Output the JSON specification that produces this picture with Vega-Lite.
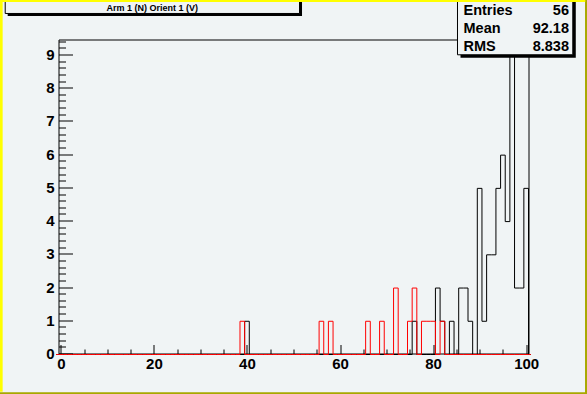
{
  "$schema": "https://vega.github.io/schema/vega-lite/v6.json",
  "width": 470,
  "height": 314,
  "autosize": {"type": "none"},
  "padding": {"left": 58.5, "top": 39.5, "right": 58.5, "bottom": 40.5},
  "background": "#f0f4f5",
  "config": {"view": {"stroke": "#000000", "strokeWidth": 1}, "font": "Liberation Sans"},
  "datasets": {
    "hist": [
      {"bin": -1, "black": 0, "red": 0}, {"bin": 0, "black": 0, "red": 0}, {"bin": 1, "black": 0, "red": 0}, {"bin": 2, "black": 0, "red": 0},
      {"bin": 3, "black": 0, "red": 0}, {"bin": 4, "black": 0, "red": 0}, {"bin": 5, "black": 0, "red": 0}, {"bin": 6, "black": 0, "red": 0},
      {"bin": 7, "black": 0, "red": 0}, {"bin": 8, "black": 0, "red": 0}, {"bin": 9, "black": 0, "red": 0}, {"bin": 10, "black": 0, "red": 0},
      {"bin": 11, "black": 0, "red": 0}, {"bin": 12, "black": 0, "red": 0}, {"bin": 13, "black": 0, "red": 0}, {"bin": 14, "black": 0, "red": 0},
      {"bin": 15, "black": 0, "red": 0}, {"bin": 16, "black": 0, "red": 0}, {"bin": 17, "black": 0, "red": 0}, {"bin": 18, "black": 0, "red": 0},
      {"bin": 19, "black": 0, "red": 0}, {"bin": 20, "black": 0, "red": 0}, {"bin": 21, "black": 0, "red": 0}, {"bin": 22, "black": 0, "red": 0},
      {"bin": 23, "black": 0, "red": 0}, {"bin": 24, "black": 0, "red": 0}, {"bin": 25, "black": 0, "red": 0}, {"bin": 26, "black": 0, "red": 0},
      {"bin": 27, "black": 0, "red": 0}, {"bin": 28, "black": 0, "red": 0}, {"bin": 29, "black": 0, "red": 0}, {"bin": 30, "black": 0, "red": 0},
      {"bin": 31, "black": 0, "red": 0}, {"bin": 32, "black": 0, "red": 0}, {"bin": 33, "black": 0, "red": 0}, {"bin": 34, "black": 0, "red": 0},
      {"bin": 35, "black": 0, "red": 0}, {"bin": 36, "black": 0, "red": 0}, {"bin": 37, "black": 0, "red": 0}, {"bin": 38, "black": 0, "red": 0},
      {"bin": 39, "black": 0, "red": 1}, {"bin": 40, "black": 1, "red": 0}, {"bin": 41, "black": 0, "red": 0}, {"bin": 42, "black": 0, "red": 0},
      {"bin": 43, "black": 0, "red": 0}, {"bin": 44, "black": 0, "red": 0}, {"bin": 45, "black": 0, "red": 0}, {"bin": 46, "black": 0, "red": 0},
      {"bin": 47, "black": 0, "red": 0}, {"bin": 48, "black": 0, "red": 0}, {"bin": 49, "black": 0, "red": 0}, {"bin": 50, "black": 0, "red": 0},
      {"bin": 51, "black": 0, "red": 0}, {"bin": 52, "black": 0, "red": 0}, {"bin": 53, "black": 0, "red": 0}, {"bin": 54, "black": 0, "red": 0},
      {"bin": 55, "black": 0, "red": 0}, {"bin": 56, "black": 0, "red": 1}, {"bin": 57, "black": 0, "red": 0}, {"bin": 58, "black": 0, "red": 1},
      {"bin": 59, "black": 0, "red": 0}, {"bin": 60, "black": 0, "red": 0}, {"bin": 61, "black": 0, "red": 0}, {"bin": 62, "black": 0, "red": 0},
      {"bin": 63, "black": 0, "red": 0}, {"bin": 64, "black": 0, "red": 0}, {"bin": 65, "black": 0, "red": 0}, {"bin": 66, "black": 0, "red": 1},
      {"bin": 67, "black": 0, "red": 0}, {"bin": 68, "black": 0, "red": 0}, {"bin": 69, "black": 0, "red": 1}, {"bin": 70, "black": 0, "red": 0},
      {"bin": 71, "black": 0, "red": 0}, {"bin": 72, "black": 0, "red": 2}, {"bin": 73, "black": 0, "red": 0}, {"bin": 74, "black": 0, "red": 0},
      {"bin": 75, "black": 0, "red": 1}, {"bin": 76, "black": 1, "red": 2}, {"bin": 77, "black": 0, "red": 0}, {"bin": 78, "black": 0, "red": 1},
      {"bin": 79, "black": 0, "red": 1}, {"bin": 80, "black": 0, "red": 1}, {"bin": 81, "black": 2, "red": 0}, {"bin": 82, "black": 1, "red": 1},
      {"bin": 83, "black": 0, "red": 0}, {"bin": 84, "black": 1, "red": 0}, {"bin": 85, "black": 0, "red": 0}, {"bin": 86, "black": 2, "red": 0},
      {"bin": 87, "black": 2, "red": 0}, {"bin": 88, "black": 1, "red": 0}, {"bin": 89, "black": 0, "red": 0}, {"bin": 90, "black": 5, "red": 0},
      {"bin": 91, "black": 1, "red": 0}, {"bin": 92, "black": 3, "red": 0}, {"bin": 93, "black": 3, "red": 0}, {"bin": 94, "black": 5, "red": 0},
      {"bin": 95, "black": 6, "red": 0}, {"bin": 96, "black": 4, "red": 0}, {"bin": 97, "black": 9, "red": 0}, {"bin": 98, "black": 2, "red": 0},
      {"bin": 99, "black": 2, "red": 0}, {"bin": 100, "black": 5, "red": 0}, {"bin": 101, "black": 0, "red": 0}
    ]
  },
  "layer": [
    {
      "data": {"name": "hist"},
      "mark": {"type": "line", "interpolate": "step", "color": "#000000", "strokeWidth": 1, "yOffset": 1},
      "encoding": {
        "x": {"field": "bin", "type": "quantitative", "scale": {"domain": [-0.5, 100.5], "nice": false, "zero": false},
          "axis": {"orient": "bottom", "values": [0, 20, 40, 60, 80, 100], "tickSize": -9, "labelPadding": 12, "domain": false, "grid": false, "title": null,
            "labelFont": "Liberation Sans", "labelFontWeight": "bold", "labelFontSize": 15, "labelColor": "#000000", "tickColor": "#000000", "labelFlush": false, "labelOverlap": false}},
        "y": {"field": "black", "type": "quantitative", "scale": {"domain": [0, 9.45], "nice": false, "zero": false},
          "axis": {"orient": "left", "values": [0, 1, 2, 3, 4, 5, 6, 7, 8, 9], "tickSize": -14, "labelPadding": 18.5, "domain": false, "grid": false, "title": null,
            "labelFont": "Liberation Sans", "labelFontWeight": "bold", "labelFontSize": 15, "labelColor": "#000000", "tickColor": "#000000", "labelFlush": false, "labelOverlap": false}}
      }
    },
    {
      "data": {"name": "hist"},
      "mark": {"type": "line", "interpolate": "step", "color": "#ff0000", "strokeWidth": 1, "yOffset": 1},
      "encoding": {
        "x": {"field": "bin", "type": "quantitative",
          "axis": {"orient": "bottom", "values": [5, 10, 15, 25, 30, 35, 45, 50, 55, 65, 70, 75, 85, 90, 95], "tickSize": -4.5, "labels": false, "domain": false, "grid": false, "title": null, "tickColor": "#000000"}},
        "y": {"field": "red", "type": "quantitative",
          "axis": {"orient": "left", "values": [0.2, 0.4, 0.6, 0.8, 1.2, 1.4, 1.6, 1.8, 2.2, 2.4, 2.6, 2.8, 3.2, 3.4, 3.6, 3.8, 4.2, 4.4, 4.6, 4.8, 5.2, 5.4, 5.6, 5.8, 6.2, 6.4, 6.6, 6.8, 7.2, 7.4, 7.6, 7.8, 8.2, 8.4, 8.6, 8.8, 9.2, 9.4], "tickSize": -7, "labels": false, "domain": false, "grid": false, "title": null, "tickColor": "#000000"}}
      }
    },
    {
      "data": {"values": [{}]},
      "mark": {"type": "rect", "fill": "#000000"},
      "encoding": {
        "x": {"datum": -11.42, "type": "quantitative", "axis": null}, "x2": {"datum": 51.83},
        "y": {"datum": 10.9, "type": "quantitative", "axis": null}, "y2": {"datum": 10.157}
      }
    },
    {
      "data": {"values": [{}]},
      "mark": {"type": "rect", "fill": "#f0f4f5", "stroke": "#000000", "strokeWidth": 1},
      "encoding": {
        "x": {"datum": -11.95, "type": "quantitative", "axis": null}, "x2": {"datum": 51.29},
        "y": {"datum": 10.9, "type": "quantitative", "axis": null}, "y2": {"datum": 10.233}
      }
    },
    {
      "data": {"values": [{"title": "Arm 1 (N) Orient 1 (V)"}]},
      "mark": {"type": "text", "font": "Liberation Sans", "fontWeight": "bold", "fontSize": 9, "align": "center", "baseline": "alphabetic", "color": "#000000"},
      "encoding": {
        "x": {"datum": 19.66, "type": "quantitative", "axis": null},
        "y": {"datum": 10.308, "type": "quantitative", "axis": null},
        "text": {"field": "title"}
      }
    },
    {
      "data": {"values": [{}]},
      "mark": {"type": "rect", "fill": "#000000"},
      "encoding": {
        "x": {"datum": 85.89, "type": "quantitative", "axis": null}, "x2": {"datum": 110.66},
        "y": {"datum": 10.9, "type": "quantitative", "axis": null}, "y2": {"datum": 8.899}
      }
    },
    {
      "data": {"values": [{}]},
      "mark": {"type": "rect", "fill": "#f0f4f5", "stroke": "#000000", "strokeWidth": 1},
      "encoding": {
        "x": {"datum": 85.24, "type": "quantitative", "axis": null}, "x2": {"datum": 110.02},
        "y": {"datum": 10.9, "type": "quantitative", "axis": null}, "y2": {"datum": 8.99}
      }
    },
    {
      "data": {"values": [{}]},
      "mark": {"type": "text", "font": "Liberation Sans", "fontWeight": "bold", "fontSize": 14.5, "align": "left", "baseline": "alphabetic", "lineHeight": 18, "color": "#000000"},
      "encoding": {
        "x": {"datum": 86.53, "type": "quantitative", "axis": null},
        "y": {"datum": 10.187, "type": "quantitative", "axis": null},
        "text": {"value": ["Entries", "Mean", "RMS"]}
      }
    },
    {
      "data": {"values": [{}]},
      "mark": {"type": "text", "font": "Liberation Sans", "fontWeight": "bold", "fontSize": 14.5, "align": "right", "baseline": "alphabetic", "lineHeight": 18, "color": "#000000"},
      "encoding": {
        "x": {"datum": 109.2, "type": "quantitative", "axis": null},
        "y": {"datum": 10.187, "type": "quantitative", "axis": null},
        "text": {"value": ["56", "92.18", "8.838"]}
      }
    },
    {
      "data": {"values": [{}]},
      "mark": {"type": "rule", "color": "#a8a800", "strokeWidth": 2},
      "encoding": {
        "x": {"datum": -13.5, "type": "quantitative", "axis": null}, "x2": {"datum": 114},
        "y": {"datum": -1.198, "type": "quantitative", "axis": null}
      }
    },
    {
      "data": {"values": [{}]},
      "mark": {"type": "rule", "color": "#a8a800", "strokeWidth": 2},
      "encoding": {
        "x": {"datum": 112.86, "type": "quantitative", "axis": null},
        "y": {"datum": -1.4, "type": "quantitative", "axis": null}, "y2": {"datum": 10.8}
      }
    },
    {
      "data": {"values": [{}]},
      "mark": {"type": "rule", "color": "#ffff00", "strokeWidth": 2.2},
      "encoding": {
        "x": {"datum": -13.5, "type": "quantitative", "axis": null}, "x2": {"datum": 112.7},
        "y": {"datum": 10.609, "type": "quantitative", "axis": null}
      }
    },
    {
      "data": {"values": [{}]},
      "mark": {"type": "rule", "color": "#ffff00", "strokeWidth": 2.7},
      "encoding": {
        "x": {"datum": -12.79, "type": "quantitative", "axis": null},
        "y": {"datum": -1.15, "type": "quantitative", "axis": null}, "y2": {"datum": 10.8}
      }
    }
  ],
  "resolve": {"axis": {"x": "independent", "y": "independent"}}
}
